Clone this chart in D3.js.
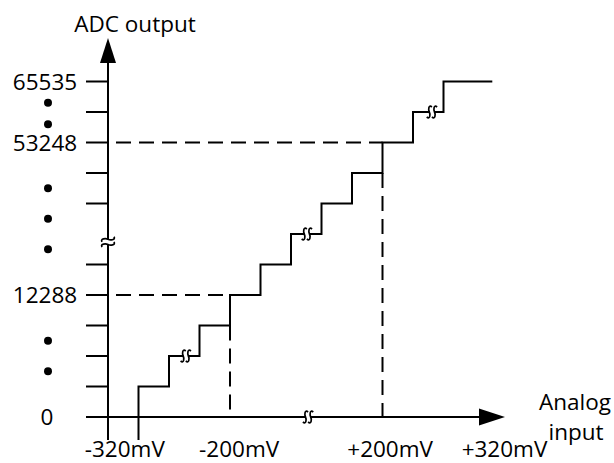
<!DOCTYPE html>
<html>
<head>
<meta charset="utf-8">
<script src="https://cdn.jsdelivr.net/npm/d3@7"></script>
<style>
  body { margin: 0; background: #fff; }
  text { font-family: "Open Sans", sans-serif; font-size: 22.5px; fill: #000; }
</style>
</head>
<body>
<div id="chart"></div>
<script>
// staircase: input index where each code step starts, and the code level reached
var stepStarts = [1, 2, 3, 4, 5, 6, 7, 8, 9, 10, 11];
var stepCodes  = [1, 2, 3, 4, 5, 6, 7, 8, 9, 10, 11];
var stairEnd = 12.6;

var yTickLevels = [1, 2, 3, 4, 5, 7, 8, 9, 10, 11];
var yLabels = ["0", "12288", "53248", "65535"];
var yLabelLevels = [0, 4, 9, 11];
var dotLevels = [10.3, 9.6, 7.5, 6.5, 5.5, 2.5, 1.5];

var xLabels = ["-320mV", "-200mV", "+200mV", "+320mV"];
var xLabelPos = [0.55, 4.3, 9.25, 13.0];

// dashed guides (input index, code level)
var guideX = [4, 9];
var guideLevel = [4, 9];

// break marks on the staircase
var breakX = [2.55, 6.52, 10.62];
var breakLevel = [2, 6, 10];

var width = 614, height = 463;

var x = d3.scaleLinear().domain([0, 13]).range([108, 108 + 30.5 * 13]);
var y = d3.scaleLinear().domain([0, 11]).range([417, 81.5]);

var svg = d3.select("#chart").append("svg")
    .attr("width", width)
    .attr("height", height);

var ink = "#000";

// axes
svg.append("line")
    .attr("x1", x(0)).attr("x2", x(0))
    .attr("y1", 60).attr("y2", 440)
    .attr("stroke", ink).attr("stroke-width", 2);
svg.append("path")
    .attr("d", "M" + x(0) + ",38 L" + (x(0) - 8) + ",63 L" + (x(0) + 8) + ",63 Z")
    .attr("fill", ink);

svg.append("line")
    .attr("x1", 86).attr("x2", 482)
    .attr("y1", y(0)).attr("y2", y(0))
    .attr("stroke", ink).attr("stroke-width", 2);
svg.append("path")
    .attr("d", "M505," + y(0) + " L479," + (y(0) - 8.5) + " L479," + (y(0) + 8.5) + " Z")
    .attr("fill", ink);

// y ticks
svg.selectAll(".ytick")
    .data(yTickLevels)
    .enter().append("line")
    .attr("class", "ytick")
    .attr("x1", 86).attr("x2", x(0))
    .attr("y1", function(d) { return y(d); })
    .attr("y2", function(d) { return y(d); })
    .attr("stroke", ink).attr("stroke-width", 2);

// dashed guides
guideX.forEach(function(gx, i) {
  var lv = guideLevel[i];
  svg.append("line")
      .attr("x1", x(0)).attr("x2", x(gx))
      .attr("y1", y(lv)).attr("y2", y(lv))
      .attr("stroke", ink).attr("stroke-width", 2)
      .attr("stroke-dasharray", "15,8")
      .attr("stroke-dashoffset", -8);
  svg.append("line")
      .attr("x1", x(gx)).attr("x2", x(gx))
      .attr("y1", y(lv - 1)).attr("y2", y(0))
      .attr("stroke", ink).attr("stroke-width", 2)
      .attr("stroke-dasharray", "15,8");
});

// staircase, first riser runs below the x axis like a tick
var pts = [[stepStarts[0], -0.75]];
stepStarts.forEach(function(s, i) {
  if (i > 0) pts.push([s, stepCodes[i - 1]]);
  pts.push([s, stepCodes[i]]);
});
pts.push([stairEnd, stepCodes[stepCodes.length - 1]]);

var line = d3.line()
    .x(function(d) { return x(d[0]); })
    .y(function(d) { return y(d[1]); });

svg.append("path")
    .attr("d", line(pts))
    .attr("fill", "none")
    .attr("stroke", ink)
    .attr("stroke-width", 2);

// break symbols
function hBreak(cx, cy) {
  svg.append("rect")
      .attr("x", cx - 2.5).attr("y", cy - 3)
      .attr("width", 5).attr("height", 6)
      .attr("fill", "#fff");
  [-2.6, 2.6].forEach(function(o) {
    var px = cx + o;
    svg.append("path")
        .attr("d", "M" + (px + 2.6) + "," + (cy - 5) +
                   " C" + (px - 1) + "," + (cy - 8) + " " + (px - 1) + "," + (cy - 2) + " " + px + "," + cy +
                   " C" + (px + 1) + "," + (cy + 2) + " " + (px + 1) + "," + (cy + 8) + " " + (px - 2.6) + "," + (cy + 5))
        .attr("fill", "none").attr("stroke", ink).attr("stroke-width", 1.7);
  });
}
function vBreak(cx, cy) {
  svg.append("rect")
      .attr("x", cx - 3).attr("y", cy - 2.5)
      .attr("width", 6).attr("height", 5)
      .attr("fill", "#fff");
  [-2.6, 2.6].forEach(function(o) {
    var py = cy + o;
    svg.append("path")
        .attr("d", "M" + (cx - 6) + "," + (py + 2.6) +
                   " C" + (cx - 8) + "," + (py - 1) + " " + (cx - 2) + "," + (py - 1) + " " + cx + "," + py +
                   " C" + (cx + 2) + "," + (py + 1) + " " + (cx + 8) + "," + (py + 1) + " " + (cx + 6) + "," + (py - 2.6))
        .attr("fill", "none").attr("stroke", ink).attr("stroke-width", 1.7);
  });
}

breakX.forEach(function(bx, i) { hBreak(x(bx), y(breakLevel[i])); });
hBreak(x(6.56), y(0));
vBreak(x(0), y(5.74));

// y labels
svg.selectAll(".ylab")
    .data(yLabels)
    .enter().append("text")
    .attr("class", "ylab")
    .attr("x", function(d) { return d === "0" ? 47 : 45; })
    .attr("y", function(d, i) { return y(yLabelLevels[i]); })
    .attr("dy", "0.36em")
    .attr("text-anchor", "middle")
    .text(function(d) { return d; });

// dots
svg.selectAll(".dot")
    .data(dotLevels)
    .enter().append("circle")
    .attr("class", "dot")
    .attr("cx", 48)
    .attr("cy", function(d) { return y(d); })
    .attr("r", 4)
    .attr("fill", ink);

// x labels
svg.selectAll(".xlab")
    .data(xLabels)
    .enter().append("text")
    .attr("class", "xlab")
    .attr("x", function(d, i) { return x(xLabelPos[i]); })
    .attr("y", 457)
    .attr("text-anchor", "middle")
    .text(function(d) { return d; });

// axis titles
svg.append("text")
    .attr("x", 135).attr("y", 32)
    .attr("text-anchor", "middle")
    .text("ADC output");
svg.append("text")
    .attr("x", 575).attr("y", 410)
    .attr("text-anchor", "middle")
    .text("Analog");
svg.append("text")
    .attr("x", 576).attr("y", 440)
    .attr("text-anchor", "middle")
    .text("input");
</script>
</body>
</html>
